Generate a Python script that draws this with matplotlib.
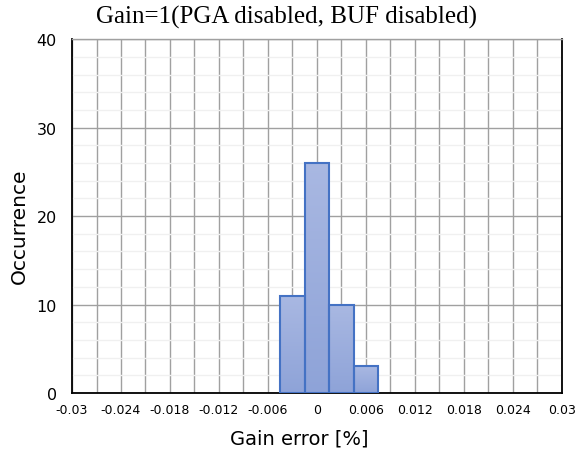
import numpy as np
import matplotlib
matplotlib.use("Agg")
import matplotlib.pyplot as plt
from matplotlib.ticker import MultipleLocator
from matplotlib.colors import LinearSegmentedColormap

# histogram bins (centre of each bin, % gain error) and counts
bin_centers = [-0.003, 0.0, 0.003, 0.006]
counts = [11, 26, 10, 3]
bin_width = 0.003

xticks = [-0.03, -0.024, -0.018, -0.012, -0.006, 0, 0.006, 0.012, 0.018, 0.024, 0.03]
xtick_labels = ["-0.03", "-0.024", "-0.018", "-0.012", "-0.006", "0",
                "0.006", "0.012", "0.018", "0.024", "0.03"]

fig = plt.figure(figsize=(5.77, 4.56), dpi=100)
ax = fig.add_axes([0.1248, 0.136, 0.849, 0.776])

# grid: x every 0.003, y major 10 / minor 2
ax.xaxis.set_minor_locator(MultipleLocator(0.003))
ax.yaxis.set_major_locator(MultipleLocator(10))
ax.yaxis.set_minor_locator(MultipleLocator(2))
ax.grid(which="minor", axis="y", color="#f0f0f0", lw=1.0, zorder=0)
ax.grid(which="minor", axis="x", color="#a0a0a0", lw=1.0)
ax.grid(which="major", axis="x", color="#a0a0a0", lw=1.0)
ax.grid(which="major", axis="y", color="#a0a0a0", lw=1.0)
ax.set_axisbelow(True)

bars = ax.bar(bin_centers, counts, width=bin_width, color="none",
              edgecolor="#4472c4", linewidth=1.5, zorder=3)

# vertical gradient fill inside each bar
cmap = LinearSegmentedColormap.from_list("barfill", ["#8ea3d8", "#a9b8e2"])
grad = np.linspace(0, 1, 256).reshape(-1, 1)
for b in bars:
    x0, y0 = b.get_x(), b.get_y()
    im = ax.imshow(grad, cmap=cmap, origin="lower", aspect="auto",
                   extent=[x0, x0 + b.get_width(), y0, y0 + b.get_height()],
                   zorder=2.5)
    im.set_clip_path(b)
ax.set_xlim(-0.03, 0.03)
ax.set_ylim(0, 40)

ax.set_xticks(xticks)
ax.set_xticklabels(xtick_labels, fontsize=9)
ax.tick_params(axis="x", which="both", length=0, pad=7)
ax.tick_params(axis="y", which="both", length=0, labelsize=11.5, pad=11)

for side in ["left", "bottom", "right"]:
    ax.spines[side].set_color("black")
    ax.spines[side].set_linewidth(1.3)
ax.spines["top"].set_color("#a0a0a0")
ax.spines["top"].set_linewidth(1.0)

fig.text(286 / 577, 1 - 17 / 456, "Gain=1(PGA disabled, BUF disabled)",
         family="Liberation Serif", fontsize=18, ha="center", va="center")
fig.text(19 / 577, 1 - 226 / 456, "Occurrence", fontsize=14.5,
         rotation=90, ha="center", va="center")
fig.text(299 / 577, 1 - 439 / 456, "Gain error [%]", fontsize=14,
         ha="center", va="center")

fig.savefig("out.png", dpi=100)
